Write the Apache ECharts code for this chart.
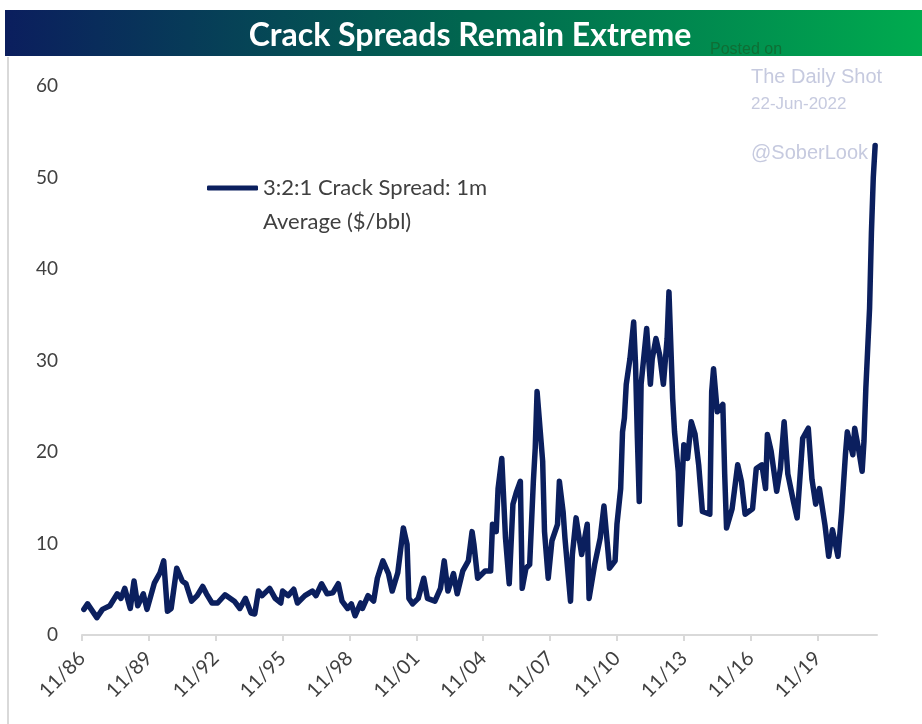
<!DOCTYPE html>
<html>
<head>
<meta charset="utf-8">
<script src="https://cdn.jsdelivr.net/npm/echarts@6/dist/echarts.min.js"></script>
<style>
  html, body { margin: 0; padding: 0; background: #fff; }
  #chart { width: 922px; height: 724px; }
</style>
</head>
<body>
<div id="chart"></div>
<script>
// 3:2:1 crack spread, 1m average ($/bbl)
const dates = [
  '1986-12', '1987-02', '1987-07', '1987-10', '1988-02', '1988-06', '1988-08', '1988-10',
  '1989-01', '1989-03', '1989-05', '1989-08', '1989-10', '1990-02', '1990-05', '1990-07',
  '1990-09', '1990-11', '1991-02', '1991-05', '1991-07', '1991-10', '1992-01', '1992-04',
  '1992-06', '1992-09', '1992-12', '1993-04', '1993-09', '1993-12', '1994-03', '1994-06',
  '1994-08', '1994-10', '1994-12', '1995-04', '1995-07', '1995-10', '1995-11', '1996-02',
  '1996-05', '1996-07', '1996-11', '1997-03', '1997-05', '1997-08', '1997-11', '1998-02',
  '1998-05', '1998-07', '1998-10', '1998-12', '1999-02', '1999-05', '1999-06', '1999-09',
  '1999-12', '2000-02', '2000-05', '2000-08', '2000-10', '2001-01', '2001-04', '2001-06',
  '2001-07', '2001-09', '2001-12', '2002-03', '2002-05', '2002-09', '2002-12', '2003-02',
  '2003-04', '2003-07', '2003-09', '2003-12', '2004-03', '2004-05', '2004-06', '2004-08',
  '2004-12', '2005-03', '2005-04', '2005-06', '2005-07', '2005-09', '2005-11', '2006-01',
  '2006-03', '2006-05', '2006-07', '2006-08', '2006-10', '2006-12', '2007-02', '2007-03',
  '2007-04', '2007-07', '2007-08', '2007-10', '2007-12', '2008-03', '2008-04', '2008-06',
  '2008-07', '2008-10', '2008-11', '2009-01', '2009-04', '2009-07', '2009-08', '2009-11',
  '2010-02', '2010-04', '2010-07', '2010-10', '2010-11', '2011-01', '2011-02', '2011-03',
  '2011-04', '2011-06', '2011-08', '2011-09', '2011-10', '2011-11', '2011-12', '2012-03',
  '2012-05', '2012-06', '2012-08', '2012-10', '2012-12', '2013-02', '2013-03', '2013-05',
  '2013-06', '2013-08', '2013-09', '2013-11', '2014-01', '2014-03', '2014-05', '2014-07',
  '2014-09', '2015-01', '2015-02', '2015-03', '2015-05', '2015-08', '2015-09', '2015-10',
  '2016-01', '2016-04', '2016-06', '2016-08', '2016-12', '2017-02', '2017-05', '2017-07',
  '2017-08', '2017-10', '2018-01', '2018-03', '2018-05', '2018-07', '2018-10', '2018-12',
  '2019-03', '2019-06', '2019-08', '2019-10', '2019-12', '2020-03', '2020-05', '2020-07',
  '2020-10', '2020-12', '2021-02', '2021-03', '2021-06', '2021-07', '2021-09', '2021-11',
  '2021-12', '2022-01', '2022-02', '2022-03', '2022-04', '2022-05', '2022-06'
];
const spread = [
  2.8, 3.4, 1.9, 2.8, 3.2, 4.5, 4.0, 5.1,
  2.9, 5.9, 3.2, 4.5, 2.8, 5.7, 6.8, 8.1,
  2.6, 2.9, 7.3, 5.9, 5.6, 3.7, 4.3, 5.3,
  4.5, 3.5, 3.5, 4.4, 3.7, 2.9, 4.0, 2.4,
  2.3, 4.8, 4.3, 5.1, 4.0, 3.5, 4.8, 4.3,
  5.0, 3.5, 4.3, 4.8, 4.3, 5.6, 4.5, 4.6,
  5.6, 3.7, 2.9, 3.4, 2.1, 3.5, 2.9, 4.3,
  3.7, 6.2, 8.1, 6.7, 4.8, 6.8, 11.7, 9.9,
  4.0, 3.4, 4.0, 6.2, 4.0, 3.7, 5.1, 8.1,
  4.8, 6.7, 4.5, 7.0, 8.1, 11.3, 9.9, 6.2,
  7.0, 7.0, 12.1, 11.3, 16.0, 19.3, 10.6, 5.6,
  14.3, 15.7, 16.8, 5.1, 7.3, 7.7, 16.8, 20.4,
  26.6, 19.0, 11.3, 6.2, 10.3, 12.1, 16.8, 13.5,
  10.6, 3.7, 8.8, 12.8, 8.8, 12.1, 4.0, 7.7,
  10.6, 14.1, 7.3, 8.1, 12.1, 16.0, 22.2, 23.7,
  27.4, 30.2, 34.2, 29.6, 21.5, 14.6, 27.4, 33.5,
  27.4, 30.2, 32.4, 30.6, 27.4, 32.4, 37.5, 25.8,
  22.2, 17.9, 12.1, 20.8, 19.3, 23.3, 22.0, 18.6,
  13.5, 13.2, 26.6, 29.1, 24.4, 25.2, 17.6, 11.7,
  13.8, 18.6, 16.8, 13.2, 13.8, 18.2, 18.6, 16.0,
  21.9, 20.1, 15.7, 18.2, 23.3, 17.6, 14.6, 12.8,
  21.5, 22.6, 17.0, 14.3, 16.0, 12.0, 8.6, 11.5,
  8.6, 13.5, 19.7, 22.2, 19.7, 22.6, 20.4, 17.9,
  21.2, 27.0, 31.3, 35.7, 44.0, 50.0, 53.5
];
const tickMonths = [0, 36, 72, 108, 144, 180, 216, 252, 288, 324, 360, 396]; // 11/86 .. 11/19
const seriesName = '3:2:1 Crack Spread: 1m\nAverage ($/bbl)';

// months since Nov 1986
function monthIndex(d) {
  const p = d.split('-');
  return (+p[0] - 1986) * 12 + (+p[1] - 11);
}
function monthLabel(v) {
  const yr = (1986 + Math.round(v / 12)) % 100;
  return '11/' + String(yr).padStart(2, '0');
}

const chart = echarts.init(document.getElementById('chart'));
const labelFont = 'Lato, "Open Sans", sans-serif';
const markFont = 'Liberation Sans, Arial, sans-serif';

const option = {
  backgroundColor: '#ffffff',
  animation: false,
  title: {
    text: 'Crack Spreads Remain Extreme',
    left: 465,
    textAlign: 'center',
    top: 15,
    textStyle: { color: '#ffffff', fontFamily: labelFont, fontWeight: 'bold', fontSize: 32 }
  },
  graphic: [
    {
      type: 'rect', z: -1,
      shape: { x: 5, y: 10, width: 917, height: 46 },
      style: {
        fill: new echarts.graphic.LinearGradient(0, 0, 1, 0, [
          { offset: 0, color: '#0b1e5e' },
          { offset: 0.5, color: '#01664f' },
          { offset: 1, color: '#00ab4f' }
        ])
      }
    },
    { type: 'line', shape: { x1: 8, y1: 57, x2: 8, y2: 724 }, style: { stroke: '#d9d9d9', lineWidth: 2 } },
    { type: 'text', z: 10, left: 710, top: 42, style: { text: 'Posted on', fill: '#0f6e35', font: '16px ' + markFont } },
    { type: 'text', left: 751, top: 67, style: { text: 'The Daily Shot', fill: '#c6cadf', font: '20px ' + markFont } },
    { type: 'text', left: 751, top: 96, style: { text: '22-Jun-2022', fill: '#c6cadf', font: '17px ' + markFont } },
    { type: 'text', left: 751, top: 143, style: { text: '@SoberLook', fill: '#c6cadf', font: '20px ' + markFont } }
  ],
  legend: {
    left: 207,
    top: 137,
    padding: 0,
    icon: 'roundRect',
    itemWidth: 51,
    itemHeight: 5,
    data: [seriesName],
    // leading blank line puts the icon level with the first text line
    formatter: name => '\n' + name,
    textStyle: { color: '#404040', fontFamily: labelFont, fontSize: 22, lineHeight: 34 }
  },
  grid: { left: 82, right: 45, top: 86, bottom: 89 },
  xAxis: {
    type: 'value',
    min: 0,
    max: 428,
    splitLine: { show: false },
    axisLine: { show: true, lineStyle: { color: '#d9d9d9', width: 2 } },
    axisTick: { show: true, length: 6, customValues: tickMonths, lineStyle: { color: '#d9d9d9', width: 2 } },
    axisLabel: {
      customValues: tickMonths,
      rotate: 45,
      margin: 20,
      color: '#404040',
      fontFamily: labelFont,
      fontSize: 20,
      formatter: monthLabel
    }
  },
  yAxis: {
    type: 'value',
    min: 0,
    max: 60,
    interval: 10,
    splitLine: { show: false },
    axisLine: { show: false },
    axisTick: { show: false },
    axisLabel: { color: '#404040', fontFamily: labelFont, fontSize: 19, margin: 24 }
  },
  series: [
    {
      name: seriesName,
      type: 'line',
      showSymbol: false,
      symbol: 'none',
      color: '#0b1f5e',
      lineStyle: { width: 5.5, color: '#0b1f5e', join: 'round', cap: 'round' },
      data: dates.map((d, i) => [monthIndex(d), spread[i]])
    }
  ]
};
chart.setOption(option);
</script>
</body>
</html>
